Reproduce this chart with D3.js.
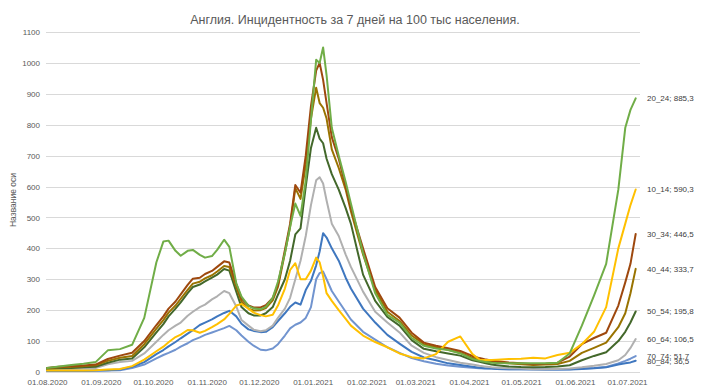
<!DOCTYPE html>
<html><head><meta charset="utf-8">
<script src="https://cdn.jsdelivr.net/npm/d3@7"></script>
<style>
html,body{margin:0;padding:0;background:#fff;}
svg{display:block;}
text{font-family:"Liberation Sans",Arial,sans-serif;}
</style></head>
<body><svg id="chart" width="713" height="391"></svg>
<script>
const dates = ["2020-08-01","2020-08-08","2020-08-15","2020-08-22","2020-08-29","2020-09-05","2020-09-12","2020-09-19","2020-09-26","2020-10-03","2020-10-07","2020-10-10","2020-10-14","2020-10-17","2020-10-21","2020-10-24","2020-10-28","2020-10-31","2020-11-04","2020-11-07","2020-11-11","2020-11-14","2020-11-18","2020-11-21","2020-11-25","2020-11-28","2020-12-02","2020-12-05","2020-12-09","2020-12-12","2020-12-16","2020-12-19","2020-12-22","2020-12-25","2020-12-28","2020-12-31","2021-01-03","2021-01-05","2021-01-07","2021-01-09","2021-01-12","2021-01-16","2021-01-20","2021-01-23","2021-01-30","2021-02-06","2021-02-13","2021-02-20","2021-02-27","2021-03-06","2021-03-13","2021-03-20","2021-03-27","2021-04-03","2021-04-07","2021-04-10","2021-04-14","2021-04-17","2021-04-24","2021-05-01","2021-05-08","2021-05-15","2021-05-22","2021-05-29","2021-06-05","2021-06-12","2021-06-19","2021-06-26","2021-06-30","2021-07-03","2021-07-06"];

const age10_14 = [5,5,5,5,6,8,10,19,40,67,82,96,113,121,136,135,127,133,145,155,170,188,215,220,205,192,184,180,185,215,270,330,352,300,300,328,370,355,310,255,230,200,172,150,118,97,80,60,48,44,58,98,115,58,40,39,39,40,42,43,46,44,55,62,90,130,210,400,480,540,590.3];
const age20_24 = [13,18,23,27,32,70,74,88,175,355,422,425,392,376,392,395,379,370,375,395,428,405,287,244,214,206,203,211,240,292,385,470,545,505,620,815,1010,1000,1050,960,790,700,615,545,385,255,185,160,110,85,76,71,60,42,36,33,30,29,28,28,28,28,30,60,150,247,350,590,790,848,885.3];
const age30_34 = [13,17,19,21,24,42,53,62,100,152,180,205,228,251,282,302,305,317,327,340,358,354,285,238,215,209,209,216,240,282,395,480,605,580,700,860,975,1000,945,870,760,690,600,530,400,275,206,176,127,95,85,77,68,52,45,41,37,35,31,28,25,27,30,50,90,110,127,215,290,350,446.5];
const age40_44 = [12,15,17,19,22,36,46,52,90,140,168,192,215,237,266,286,292,303,313,325,343,340,275,228,205,199,200,207,232,275,385,470,595,560,670,820,920,870,855,820,720,660,590,520,380,265,195,165,118,90,80,72,62,46,40,36,33,31,28,25,23,24,26,36,62,78,95,145,190,255,333.7];
const age50_54 = [10,12,13,15,17,30,40,44,80,128,155,180,205,225,255,275,283,293,305,315,333,328,260,210,190,183,183,190,210,250,300,360,445,465,600,725,790,755,740,690,640,590,530,480,315,230,178,150,103,75,67,60,53,38,33,29,24,22,18,16,15,16,18,22,38,52,64,100,130,160,195.8];
const age60_64 = [8,9,10,11,13,25,32,36,60,98,120,135,150,160,182,195,210,218,235,245,262,255,212,168,150,137,132,135,150,175,205,240,300,360,440,540,620,630,610,555,480,440,380,340,260,195,160,128,85,62,48,39,30,24,20,18,15,14,12,11,9,9,10,11,15,20,26,38,55,78,106.5];
const age70_74 = [3,3,3,3,4,5,6,13,24,44,55,62,72,82,93,103,112,120,128,134,142,149,135,118,98,85,72,70,76,90,118,141,153,160,175,210,300,320,325,300,262,228,195,170,130,105,80,62,45,35,27,21,17,14,12,11,11,10,9,9,8,8,8,9,11,13,16,28,36,43,51.7];
const age80_84 = [4,4,4,4,5,6,8,17,32,58,71,83,97,109,124,135,152,160,170,180,191,198,180,156,138,133,129,130,145,165,190,211,225,218,265,295,345,390,449,435,400,360,305,270,205,160,120,92,65,47,38,28,23,17,14,12,11,10,9,9,9,8,8,8,10,12,15,24,28,31,36.5];

const seriesNames = ["70_74","80_84","60_64","50_54","40_44","30_34","10_14","20_24"];
const seriesValues = [age70_74, age80_84, age60_64, age50_54, age40_44, age30_34, age10_14, age20_24];
const seriesColors = ["#7194CF","#3F77BF","#B0B0B0","#43682B","#997300","#9E480E","#FFC000","#70AD47"];

const yTicks = [0,100,200,300,400,500,600,700,800,900,1000,1100];
const xTickDates = ["2020-08-01","2020-09-01","2020-10-01","2020-11-01","2020-12-01","2021-01-01","2021-02-01","2021-03-01","2021-04-01","2021-05-01","2021-06-01","2021-07-01"];
const titleText = "Англия. Инцидентность за 7 дней на 100 тыс населения.";
const yAxisTitle = "Название оси";

const parse = d3.timeParse("%Y-%m-%d");
const svg = d3.select("#chart");

const x = d3.scaleTime().domain([parse("2020-08-01"), parse("2021-07-01")]).range([47, 627]);
const y = d3.scaleLinear().domain([0, 1100]).range([372, 32]);
const plotRight = 640;

// gridlines
svg.append("g").selectAll("line").data(yTicks).join("line")
  .attr("x1", 46).attr("x2", plotRight)
  .attr("y1", d => Math.round(y(d)) + 0.5).attr("y2", d => Math.round(y(d)) + 0.5)
  .attr("stroke", "#D9D9D9").attr("stroke-width", 1);

// y axis labels
const yAxis = d3.axisLeft(y).tickValues(yTicks).tickFormat(d3.format("d")).tickSize(0).tickPadding(0);
const gy = svg.append("g").attr("transform", "translate(40,0)").call(yAxis);
gy.select(".domain").remove();
gy.selectAll("text").attr("font-size", 8).attr("fill", "#595959")
  .style("font-family", "\"Liberation Sans\",Arial,sans-serif");

// x axis labels
const fmt = d3.timeFormat("%d.%m.%Y");
const xAxis = d3.axisBottom(x).tickValues(xTickDates.map(parse)).tickFormat(fmt).tickSize(0).tickPadding(0);
const gx = svg.append("g").attr("transform", "translate(0,379)").call(xAxis);
gx.select(".domain").remove();
gx.selectAll("text").attr("font-size", 8).attr("fill", "#595959")
  .style("font-family", "\"Liberation Sans\",Arial,sans-serif");

// lines
const parsedDates = dates.map(parse);
const line = d3.line().x(d => x(d[0])).y(d => y(d[1]));
seriesValues.forEach((vals, i) => {
  const pts = vals.map((v, j) => [parsedDates[j], v]);
  svg.append("path").datum(pts)
    .attr("d", line).attr("fill", "none")
    .attr("stroke", seriesColors[i]).attr("stroke-width", 2)
    .attr("stroke-linejoin", "round").attr("stroke-linecap", "round");
});

// end labels
const comma = v => d3.format(".1f")(v).replace(".", ",");
seriesValues.forEach((vals, i) => {
  const last = vals[vals.length - 1];
  svg.append("text")
    .attr("x", 647).attr("y", y(last)).attr("dy", "0.35em")
    .attr("font-size", 8).attr("fill", "#404040")
    .text(seriesNames[i] + "; " + comma(last));
});

// title
svg.append("text").attr("x", 355).attr("y", 24).attr("text-anchor", "middle")
  .attr("font-size", 12.5).attr("fill", "#595959").text(titleText);

// y axis title
svg.append("text").attr("transform", "translate(16,200) rotate(-90)")
  .attr("text-anchor", "middle").attr("font-size", 8.5).attr("fill", "#595959").text(yAxisTitle);
</script>
</body></html>
